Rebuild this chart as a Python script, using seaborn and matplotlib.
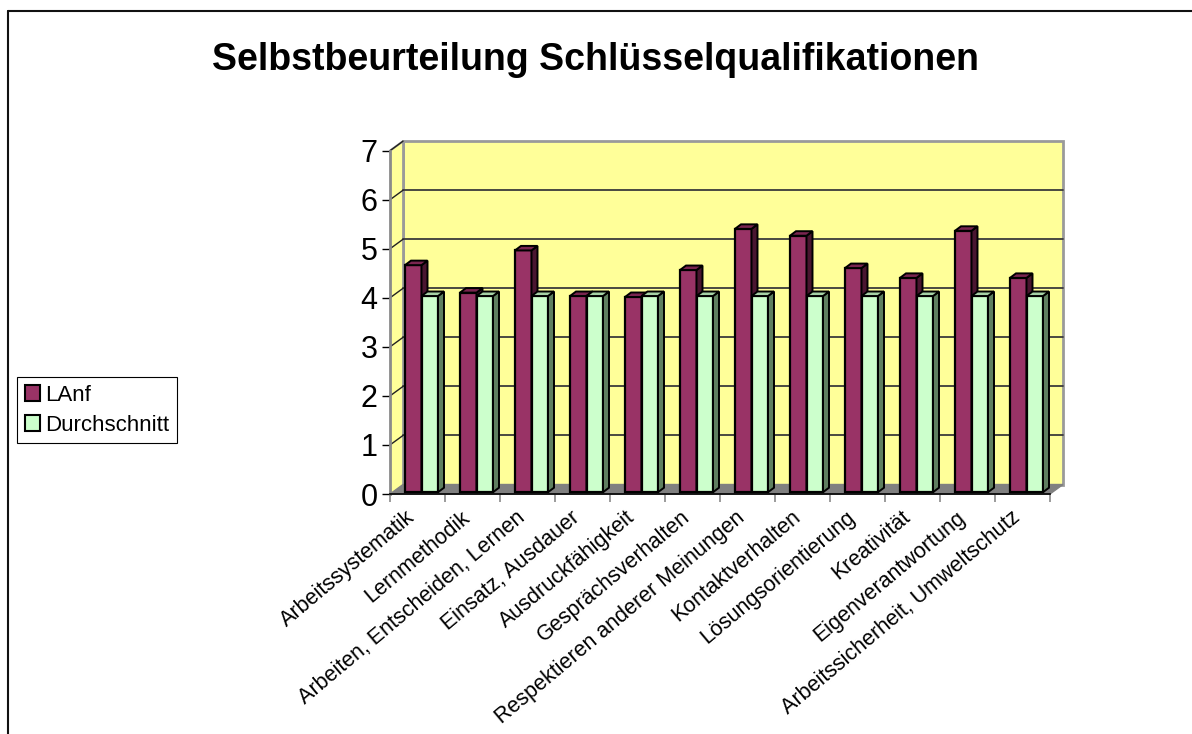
import numpy as np
import pandas as pd
import matplotlib
matplotlib.use("Agg")
import matplotlib.pyplot as plt
from matplotlib.patches import Polygon
from matplotlib.lines import Line2D
from matplotlib.transforms import ScaledTranslation
import seaborn as sns

categories = ["Arbeitssystematik", "Lernmethodik", "Arbeiten, Entscheiden, Lernen",
              "Einsatz, Ausdauer", "Ausdruckfähigkeit", "Gesprächsverhalten",
              "Respektieren anderer Meinungen", "Kontaktverhalten", "Lösungsorientierung",
              "Kreativität", "Eigenverantwortung", "Arbeitssicherheit, Umweltschutz"]
lanf = [4.63, 4.07, 4.93, 4.0, 3.98, 4.53, 5.37, 5.23, 4.57, 4.37, 5.33, 4.37]
durchschnitt = [4.0, 4.0, 4.0, 4.0, 4.0, 4.0, 4.0, 4.0, 4.0, 4.0, 4.0, 4.0]
series_names = ["LAnf", "Durchschnitt"]
y_ticks = [0, 1, 2, 3, 4, 5, 6, 7]
title = "Selbstbeurteilung Schlüsselqualifikationen"

df = pd.DataFrame({
    "Kategorie": categories * 2,
    "Wert": lanf + durchschnitt,
    "Serie": [series_names[0]] * len(categories) + [series_names[1]] * len(categories),
})

sns.set_theme(style="white")
plt.rcParams["font.family"] = ["Liberation Sans", "DejaVu Sans"]
plt.rcParams["text.color"] = "black"
plt.rcParams["xtick.color"] = "black"
plt.rcParams["ytick.color"] = "black"
plt.rcParams["xtick.labelcolor"] = "black"
plt.rcParams["ytick.labelcolor"] = "black"

W, H, DPI = 1192, 734, 100
fig = plt.figure(figsize=(W / DPI, H / DPI), dpi=DPI)

# front plane of the 3D box (pixel measurements)
x_left, x_right = 390, 1050
y_zero, y_top = 494.0, 150.7
ax = fig.add_axes([x_left / W, 1 - y_zero / H, (x_right - x_left) / W, (y_zero - y_top) / H])
ax.set_facecolor("none")

front_cols = {"LAnf": "#993366", "Durchschnitt": "#CCFFCC"}
side_cols = {"LAnf": "#4a1630", "Durchschnitt": "#5f7f5f"}
topf_cols = {"LAnf": "#7a2550", "Durchschnitt": "#a6d2a6"}

sns.barplot(data=df, x="Kategorie", y="Wert", hue="Serie", palette=front_cols,
            width=0.6, dodge=True, edgecolor="black", linewidth=1.6, ax=ax,
            legend=True, saturation=1)

n = len(categories)
ax.set_xlim(-0.5, n - 0.5)
ax.set_ylim(0, 7)

# wall depth (pixels)
WX, WY = 13.0, 9.5
# bar placement offset and bar depth (pixels)
BX, BY = 4.0, 1.8
DX, DY = 6.0, 4.5

inv = ax.transData.inverted()
def pts(data_pts, offs):
    disp = ax.transData.transform(np.array(data_pts, dtype=float))
    disp = disp + np.array(offs, dtype=float)
    return inv.transform(disp)

# back wall
wall = pts([(-0.5, 0), (n - 0.5, 0), (n - 0.5, 7), (-0.5, 7)], [(WX, WY)] * 4)
ax.add_patch(Polygon(wall, closed=True, facecolor="#FFFF99", edgecolor="#9a9a9a",
                     linewidth=2.0, zorder=0.5, clip_on=False))
# side wall (left)
side = pts([(-0.5, 0), (-0.5, 0), (-0.5, 7), (-0.5, 7)], [(0, 0), (WX, WY), (WX, WY), (0, 0)])
ax.add_patch(Polygon(side, closed=True, facecolor="#FFFF99", edgecolor="none",
                     zorder=0.5, clip_on=False))
# floor
floor = pts([(-0.5, 0), (n - 0.5, 0), (n - 0.5, 0), (-0.5, 0)], [(0, 0), (0, 0), (WX, WY), (WX, WY)])
ax.add_patch(Polygon(floor, closed=True, facecolor="#808080", edgecolor="#808080",
                     linewidth=1, zorder=0.8, clip_on=False))
# grid lines on back wall and side wall
for v in y_ticks[1:-1]:
    g = pts([(-0.5, v), (n - 0.5, v)], [(WX, WY), (WX, WY)])
    ax.add_line(Line2D(g[:, 0], g[:, 1], color="#3a3a3a", linewidth=1.3, zorder=0.7, clip_on=False))
for v in y_ticks[1:]:
    g = pts([(-0.5, v), (-0.5, v)], [(0, 0), (WX, WY)])
    ax.add_line(Line2D(g[:, 0], g[:, 1], color="#222222", linewidth=1.0, zorder=0.7, clip_on=False))
# wall left vertical edge
e = pts([(-0.5, 0), (-0.5, 7)], [(WX, WY), (WX, WY)])
ax.add_line(Line2D(e[:, 0], e[:, 1], color="#9a9a9a", linewidth=2.0, zorder=0.6, clip_on=False))
# top slant
e = pts([(-0.5, 7), (-0.5, 7)], [(0, 0), (WX, WY)])
ax.add_line(Line2D(e[:, 0], e[:, 1], color="#9a9a9a", linewidth=1.5, zorder=0.6, clip_on=False))

# 3D faces for each bar
off = ScaledTranslation(BX / DPI, BY / DPI, fig.dpi_scale_trans)
for ci, cont in enumerate(ax.containers):
    name = series_names[ci]
    z = 3 + ci
    for rect in cont:
        x0 = rect.get_x()
        w = rect.get_width()
        h = rect.get_height()
        rect.set_transform(ax.transData + off)
        rect.set_zorder(z)
        rect.set_clip_on(False)
        sidef = pts([(x0 + w, 0), (x0 + w, h), (x0 + w, h), (x0 + w, 0)],
                    [(BX, BY), (BX, BY), (BX + DX, BY + DY), (BX + DX, BY + DY)])
        ax.add_patch(Polygon(sidef, closed=True, facecolor=side_cols[name], edgecolor="black",
                             linewidth=1.4, zorder=z, clip_on=False, joinstyle="miter"))
        topf = pts([(x0, h), (x0 + w, h), (x0 + w, h), (x0, h)],
                   [(BX, BY), (BX, BY), (BX + DX, BY + DY), (BX + DX, BY + DY)])
        ax.add_patch(Polygon(topf, closed=True, facecolor=topf_cols[name], edgecolor="black",
                             linewidth=1.4, zorder=z, clip_on=False, joinstyle="miter"))

# axes styling
for s in ["top", "right"]:
    ax.spines[s].set_visible(False)
ax.spines["left"].set_color("#8a8a8a")
ax.spines["left"].set_linewidth(2.0)
ax.spines["bottom"].set_color("black")
ax.spines["bottom"].set_linewidth(1.2)
ax.spines["left"].set_zorder(2)
ax.set_yticks(y_ticks)
ax.set_yticklabels([str(t) for t in y_ticks], fontsize=22, color="black")
ax.tick_params(axis="y", direction="out", length=6, width=1.0, color="black", pad=3, left=True)
ax.set_xticks(np.arange(n))
ax.set_xticklabels(categories, rotation=40, ha="right", va="center",
                   rotation_mode="anchor", fontsize=15.5, color="black")
ax.tick_params(axis="x", which="major", length=0, pad=15)
ax.set_xticks(np.arange(-0.5, n, 1), minor=True)
ax.tick_params(axis="x", which="minor", direction="out", length=6, width=1.2,
               color="#8a8a8a", bottom=True)
lab_off = ScaledTranslation(-5 / DPI, 0, fig.dpi_scale_trans)
for lbl in ax.get_xticklabels():
    lbl.set_transform(lbl.get_transform() + lab_off)
ax.set_xlabel("")
ax.set_ylabel("")
ax.grid(False)

# legend
leg_handles = [plt.Rectangle((0, 0), 1, 1, facecolor=front_cols[s], edgecolor="black", linewidth=1.5)
               for s in series_names]
if ax.get_legend() is not None:
    ax.get_legend().remove()
leg = fig.legend(leg_handles, series_names, loc="upper left",
                 bbox_to_anchor=(17 / W, 1 - 377 / H), bbox_transform=fig.transFigure,
                 fontsize=16, frameon=True, fancybox=False, edgecolor="black",
                 framealpha=1, borderpad=0.35, handlelength=0.7, handleheight=0.7,
                 handletextpad=0.2, labelspacing=0.4, borderaxespad=0)
leg.get_frame().set_linewidth(0.8)
for t in leg.get_texts():
    t.set_color("black")

# title
fig.text(0.5, 1 - 70 / H, title, ha="center", va="baseline", fontsize=27,
         fontweight="bold", color="black")

# figure frame (top and left)
fig.add_artist(Line2D([8 / W, 1.0], [1 - 11 / H, 1 - 11 / H], transform=fig.transFigure,
                      color="#111111", linewidth=1.5))
fig.add_artist(Line2D([8 / W, 8 / W], [0.0, 1 - 11 / H], transform=fig.transFigure,
                      color="#111111", linewidth=1.5))

fig.savefig("out.png", dpi=DPI, facecolor="white")
